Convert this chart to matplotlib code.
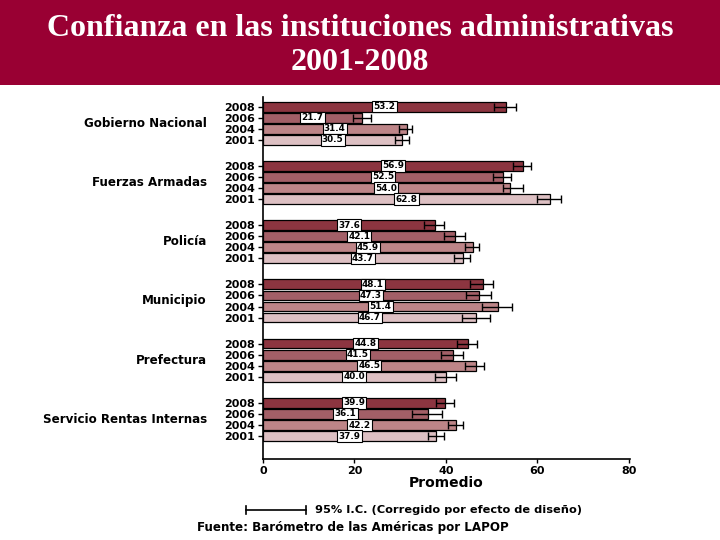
import matplotlib
matplotlib.use("Agg")
import matplotlib.pyplot as plt
from matplotlib.lines import Line2D
from matplotlib.patches import Rectangle
import numpy as np

institutions = ["Gobierno Nacional", "Fuerzas Armadas", "Policía", "Municipio",
                "Prefectura", "Servicio Rentas Internas"]
years = ["2008", "2006", "2004", "2001"]

# promedio por institucion, en el orden de years
gobierno = [53.2, 21.7, 31.4, 30.5]
fuerzas = [56.9, 52.5, 54.0, 62.8]
policia = [37.6, 42.1, 45.9, 43.7]
municipio = [48.1, 47.3, 51.4, 46.7]
prefectura = [44.8, 41.5, 46.5, 40.0]
sri = [39.9, 36.1, 42.2, 37.9]

# intervalo de confianza 95% (limites)
ci_low = [50.5, 19.8, 29.8, 28.9,
          54.8, 50.4, 52.6, 59.9,
          35.3, 39.6, 44.3, 41.8,
          45.3, 44.5, 48.0, 43.5,
          42.5, 39.0, 44.2, 37.6,
          37.9, 32.6, 40.5, 36.2]
ci_high = [55.3, 23.6, 32.6, 32.0,
           58.6, 54.2, 56.9, 65.2,
           39.5, 44.2, 47.2, 45.3,
           50.4, 49.8, 54.5, 49.6,
           46.8, 43.8, 48.4, 42.2,
           41.8, 39.2, 43.8, 39.7]

colors = ["#8c3540", "#a35f67", "#bd8588", "#ddc0c3"]
title_bg = "#990033"
FONT = "DejaVu Sans"

values = np.array([gobierno, fuerzas, policia, municipio, prefectura, sri])
ci_low = np.array(ci_low).reshape(values.shape)
ci_high = np.array(ci_high).reshape(values.shape)

GROUP_STEP = 5.35
n_groups, n_years = values.shape

fig = plt.figure(figsize=(7.2, 5.4), dpi=100)
fig.patch.set_facecolor("white")

# banner del titulo
fig.patches.append(Rectangle((0, 1 - 85 / 540), 1, 85 / 540, transform=fig.transFigure,
                             facecolor=title_bg, edgecolor="none", zorder=0))
fig.text(0.5, 1 - 28 / 540, "Confianza en las instituciones administrativas",
         ha="center", va="center", color="white", fontsize=23, fontweight="bold",
         family="Liberation Serif")
fig.text(0.5, 1 - 63 / 540, "2001-2008", ha="center", va="center", color="white",
         fontsize=23, fontweight="bold", family="Liberation Serif")

ax = fig.add_axes([263 / 720, 1 - 459 / 540, 367 / 720, 362 / 540])

ypos_all = []
ylabels = []
for g in range(n_groups):
    for j in range(n_years):
        y = g * GROUP_STEP + j
        v = values[g, j]
        ax.barh(y, v, height=0.88, color=colors[j], edgecolor="black", linewidth=0.9,
                zorder=2)
        ax.errorbar(v, y, xerr=[[v - ci_low[g, j]], [ci_high[g, j] - v]], fmt="none",
                    ecolor="black", elinewidth=1, capsize=3, capthick=1, zorder=3)
        ax.text(v / 2, y, f"{v:.1f}", ha="center", va="center", fontsize=6.4,
                fontweight="bold", family=FONT, zorder=4,
                bbox=dict(boxstyle="square,pad=0.13", facecolor="white",
                          edgecolor="black", linewidth=0.8))
        ypos_all.append(y)
        ylabels.append(years[j])
    ax.text(-12.3, g * GROUP_STEP + 1.5, institutions[g], ha="right", va="center",
            fontsize=8.6, fontweight="bold", family=FONT, transform=ax.transData,
            clip_on=False)

last = (n_groups - 1) * GROUP_STEP + n_years - 1
ax.set_ylim(last + 2.07, -0.87)
ax.set_xlim(0, 80.3)
ax.set_yticks(ypos_all)
ax.set_yticklabels(ylabels, fontsize=8, fontweight="bold", family=FONT)
ax.set_xticks([0, 20, 40, 60, 80])
ax.set_xticklabels(["0", "20", "40", "60", "80"], fontsize=8, fontweight="bold",
                   family=FONT)
ax.tick_params(axis="y", length=3.5, width=1, pad=2)
ax.tick_params(axis="x", length=3, width=1, pad=2)
ax.set_xlabel("Promedio", fontsize=10, fontweight="bold", family=FONT, labelpad=0)
for side in ["top", "right"]:
    ax.spines[side].set_visible(False)
for side in ["left", "bottom"]:
    ax.spines[side].set_linewidth(1.2)

# leyenda del intervalo de confianza
ly = 1 - 510 / 540
x0, x1 = 246 / 720, 306 / 720
fig.add_artist(Line2D([x0, x1], [ly, ly], color="black", lw=1.2, transform=fig.transFigure))
for xx in (x0, x1):
    fig.add_artist(Line2D([xx, xx], [ly - 0.007, ly + 0.007], color="black", lw=1.2,
                          transform=fig.transFigure))
fig.text(315 / 720, ly, "95% I.C. (Corregido por efecto de diseño)", ha="left",
         va="center", fontsize=8.2, fontweight="bold", family=FONT)
fig.text(197 / 720, 1 - 528 / 540, "Fuente: Barómetro de las Américas por LAPOP",
         ha="left", va="center", fontsize=8.6, fontweight="bold", family=FONT)

fig.savefig("out.png", dpi=100)
